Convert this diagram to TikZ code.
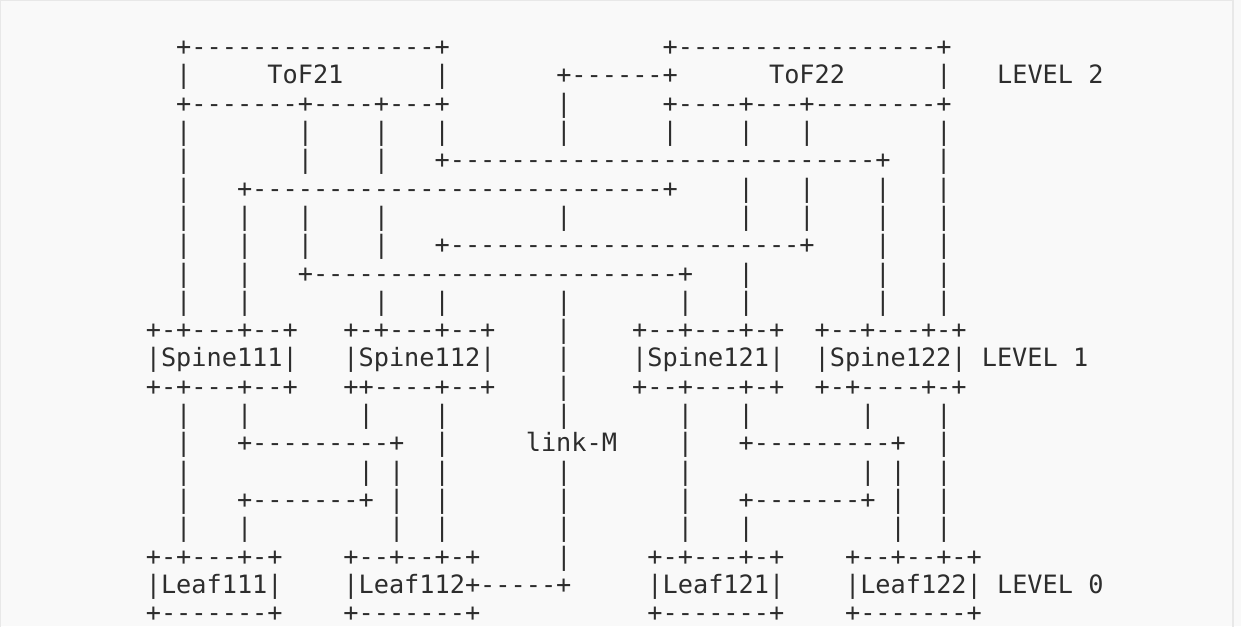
\documentclass[tikz,border=0pt]{standalone}
\usepackage{fontspec}
\setmonofont{DejaVu Sans Mono}
\definecolor{ink}{RGB}{45,45,45}
\definecolor{bgc}{RGB}{249,249,249}
\definecolor{framec}{RGB}{232,232,232}
\newcommand\artfont{\ttfamily\fontsize{25.25pt}{28pt}\selectfont}
\tikzset{artrow/.style={anchor=base west,inner sep=0pt,outer sep=0pt,font=\artfont,text=ink}}
\begin{document}
\begin{tikzpicture}[x=1pt,y=-1pt]
\useasboundingbox (0,0) rectangle (1241,626);
\fill[bgc] (0,0) rectangle (1241,626);
\draw[framec,line width=1.2pt] (0.6,0.6) rectangle (1233,640);
\node[artrow] (r0)  at (145.8,55.6)  {~~+----------------+~~~~~~~~~~~~~~+-----------------+};
\node[artrow] (r1)  at (145.8,83.9)  {~~|~~~~~ToF21~~~~~~|~~~~~~~+------+~~~~~~ToF22~~~~~~|~~~LEVEL~2};
\node[artrow] (r2)  at (145.8,112.2) {~~+-------+----+---+~~~~~~~|~~~~~~+----+---+--------+};
\node[artrow] (r3)  at (145.8,140.5) {~~|~~~~~~~|~~~~|~~~|~~~~~~~|~~~~~~|~~~~|~~~|~~~~~~~~|};
\node[artrow] (r4)  at (145.8,168.8) {~~|~~~~~~~|~~~~|~~~+----------------------------+~~~|};
\node[artrow] (r5)  at (145.8,197.1) {~~|~~~+---------------------------+~~~~|~~~|~~~~|~~~|};
\node[artrow] (r6)  at (145.8,225.4) {~~|~~~|~~~|~~~~|~~~~~~~~~~~|~~~~~~~~~~~|~~~|~~~~|~~~|};
\node[artrow] (r7)  at (145.8,253.7) {~~|~~~|~~~|~~~~|~~~+-----------------------+~~~~|~~~|};
\node[artrow] (r8)  at (145.8,282.0) {~~|~~~|~~~+------------------------+~~~|~~~~~~~~|~~~|};
\node[artrow] (r9)  at (145.8,310.3) {~~|~~~|~~~~~~~~|~~~|~~~~~~~|~~~~~~~|~~~|~~~~~~~~|~~~|};
\node[artrow] (r10) at (145.8,338.6) {+-+---+--+~~~+-+---+--+~~~~|~~~~+--+---+-+~~+--+---+-+};
\node[artrow] (r11) at (145.8,366.9) {|Spine111|~~~|Spine112|~~~~|~~~~|Spine121|~~|Spine122|~LEVEL~1};
\node[artrow] (r12) at (145.8,395.2) {+-+---+--+~~~++----+--+~~~~|~~~~+--+---+-+~~+-+----+-+};
\node[artrow] (r13) at (145.8,423.5) {~~|~~~|~~~~~~~|~~~~|~~~~~~~|~~~~~~~|~~~|~~~~~~~|~~~~|};
\node[artrow] (r14) at (145.8,451.8) {~~|~~~+---------+~~|~~~~~link-M~~~~|~~~+---------+~~|};
\node[artrow] (r15) at (145.8,480.1) {~~|~~~~~~~~~~~|~|~~|~~~~~~~|~~~~~~~|~~~~~~~~~~~|~|~~|};
\node[artrow] (r16) at (145.8,508.4) {~~|~~~+-------+~|~~|~~~~~~~|~~~~~~~|~~~+-------+~|~~|};
\node[artrow] (r17) at (145.8,536.7) {~~|~~~|~~~~~~~~~|~~|~~~~~~~|~~~~~~~|~~~|~~~~~~~~~|~~|};
\node[artrow] (r18) at (145.8,565.0) {+-+---+-+~~~~+--+--+-+~~~~~|~~~~~+-+---+-+~~~~+--+--+-+};
\node[artrow] (r19) at (145.8,593.3) {|Leaf111|~~~~|Leaf112+-----+~~~~~|Leaf121|~~~~|Leaf122|~LEVEL~0};
\node[artrow] (r20) at (145.8,621.6) {+-------+~~~~+-------+~~~~~~~~~~~+-------+~~~~+-------+};
\end{tikzpicture}
\end{document}
